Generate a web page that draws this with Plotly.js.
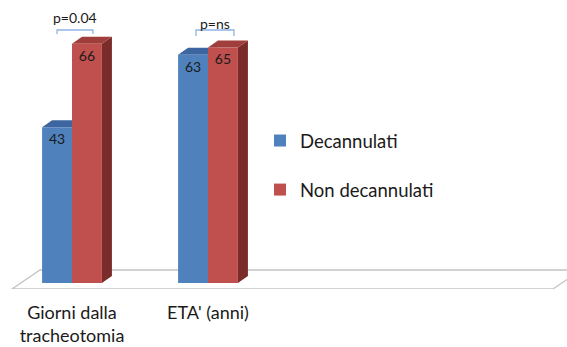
<!DOCTYPE html>
<html><head><meta charset="utf-8">
<script src="https://cdn.plot.ly/plotly-3.0.1.min.js"></script>
<style>html,body{margin:0;padding:0;background:#fff}#chart{width:567px;height:347px}</style>
</head><body><div id="chart"></div>
<script>
// ---- data ----
const categories = ["Giorni dalla<br>tracheotomia", "ETA' (anni)"];
const seriesNames = ["Decannulati", "Non decannulati"];
const decannulati = [43, 63];
const nonDecannulati = [66, 65];
const pLabels = ["p=0.04", "p=ns"];

// ---- layout geometry ----
const W = 567, H = 347, M = {l: 0, r: 0, t: 0, b: 58};
const plotW = W - M.l - M.r, plotH = H - M.t - M.b;
const xRange = [-0.5294, 3.6397];
const yRange = [-1.655, 78.07];
const kx = plotW / (xRange[1] - xRange[0]);
const ky = plotH / (yRange[1] - yRange[0]);
const depthX = 10 / kx, depthY = 7 / ky;
const bargap = 0.56;
const barW = (1 - bargap) / 2;
const xs = categories.map((_, i) => i);

const colors = {
  front: ["#4f81bd", "#c0504d"],
  top: ["#3d66a0", "#a03e3b"],
  side: ["#2f5280", "#7a2c2b"]
};
const font = "Lato, 'Open Sans', sans-serif";
const textCol = "#1a1a1a";

const series = [decannulati, nonDecannulati];
const traces = series.map((vals, s) => ({
  type: "bar",
  name: seriesNames[s],
  x: xs,
  y: vals,
  text: vals.map(String),
  textposition: "inside",
  insidetextanchor: "end",
  textangle: 0,
  constraintext: "none",
  textfont: {family: font, size: 14, color: textCol},
  marker: {color: colors.front[s], line: {width: 0}},
  legendgroup: "g" + s,
  hoverinfo: "skip"
}));

const shapes = [];
// floor
const fy0 = yRange[0], fy1 = yRange[0] + 19 / ky;
const fxl = xRange[0] + 12 / kx, fxr = xRange[0] + 553 / kx, fdx = 28 / kx;
shapes.push({
  type: "path", xref: "x", yref: "y", layer: "below",
  path: `M${fxl},${fy0} L${fxr},${fy0} L${fxr + fdx},${fy1} L${fxl + fdx},${fy1} Z`,
  fillcolor: "#ffffff", line: {color: "#c4c4c4", width: 1.3}
});
// 3D faces
series.forEach((vals, s) => {
  vals.forEach((v, i) => {
    const left = xs[i] + (s === 0 ? -barW : 0);
    const right = left + barW;
    shapes.push({
      type: "path", xref: "x", yref: "y", layer: "below",
      path: `M${right},0 L${right + depthX},${depthY} L${right + depthX},${v + depthY} L${right},${v} Z`,
      fillcolor: colors.side[s], line: {width: 0}
    });
    shapes.push({
      type: "path", xref: "x", yref: "y", layer: "below",
      path: `M${left},${v} L${right},${v} L${right + depthX},${v + depthY} L${left + depthX},${v + depthY} Z`,
      fillcolor: colors.top[s], line: {width: 0}
    });
  });
});
// significance brackets
const brTop = (283 - 30) / ky;
const brLen = [4 / ky, 6 / ky];
const brL = [-0.11, -0.088], brR = [0.154, 0.191];
const pTextY = [(283 - 17) / ky, (283 - 23) / ky];
const annotations = [];
xs.forEach((c, i) => {
  const xl = c + brL[i], xr = c + brR[i];
  shapes.push({
    type: "path", xref: "x", yref: "y", layer: "above",
    path: `M${xl},${brTop - brLen[i]} L${xl},${brTop} L${xr},${brTop} L${xr},${brTop - brLen[i]}`,
    line: {color: "#8eb4e3", width: 1.3}
  });
  annotations.push({
    x: (xl + xr) / 2, y: pTextY[i], xref: "x", yref: "y",
    text: pLabels[i], showarrow: false,
    font: {family: font, size: 14, color: textCol}
  });
});

const layout = {
  width: W, height: H,
  margin: M,
  paper_bgcolor: "#ffffff", plot_bgcolor: "rgba(0,0,0,0)",
  barmode: "group", bargap: bargap, bargroupgap: 0,
  showlegend: true,
  legend: {
    x: 260 / W, xanchor: "left", y: 1 - 122 / plotH, yanchor: "top",
    font: {family: font, size: 18.5, color: textCol},
    itemwidth: 30, tracegroupgap: 22, bgcolor: "rgba(0,0,0,0)",
    traceorder: "grouped"
  },
  xaxis: {
    range: xRange, tickvals: xs, ticktext: categories,
    showgrid: false, zeroline: false, showline: false, ticks: "",
    ticklabelstandoff: 11,
    tickfont: {family: font, size: 18, color: textCol},
    fixedrange: true
  },
  yaxis: {
    range: yRange, visible: false, showgrid: false, zeroline: false, fixedrange: true
  },
  shapes: shapes,
  annotations: annotations
};

Plotly.newPlot("chart", traces, layout, {displayModeBar: false, staticPlot: true});
</script>
</body></html>
